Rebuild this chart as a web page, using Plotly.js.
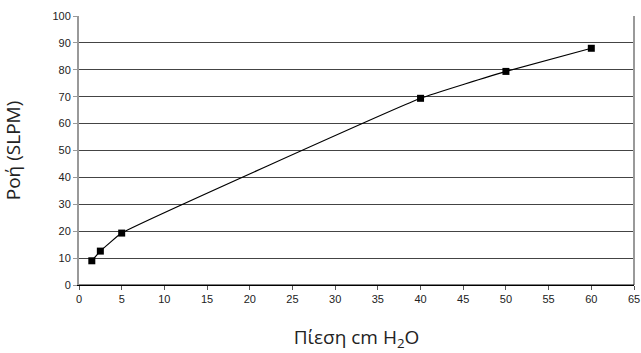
<!DOCTYPE html>
<html>
<head>
<meta charset="utf-8">
<script src="https://cdn.plot.ly/plotly-3.0.1.min.js"></script>
<style>html,body{margin:0;padding:0;background:#fff;}#chart{width:641px;height:353px;}</style>
</head>
<body>
<div id="chart"></div>
<script>
const pressure = [1.5, 2.5, 5, 40, 50, 60];
const flow = [9.0, 12.6, 19.3, 69.4, 79.4, 88.0];
const xTitle = 'Πίεση cm H<sub>2</sub>O';
const yTitle = 'Ροή (SLPM)';

const trace = {
  x: pressure, y: flow, type: 'scatter', mode: 'lines+markers',
  line: {color: '#000', width: 1.2, shape: 'spline', smoothing: 0.3},
  marker: {symbol: 'square', size: 7, color: '#000'},
  showlegend: false, hoverinfo: 'none'
};

const layout = {
  width: 641, height: 353,
  margin: {l: 79, r: 7, t: 16, b: 68},
  paper_bgcolor: '#fff', plot_bgcolor: '#fff',
  font: {family: 'Liberation Sans, Arial, sans-serif', size: 11, color: '#222'},
  xaxis: {
    range: [0, 65], dtick: 5, tick0: 0, showgrid: false, zeroline: false,
    showline: true, linecolor: '#000', linewidth: 1, mirror: false,
    ticks: 'outside', ticklen: 4, tickcolor: '#555',
    tickfont: {family: 'Liberation Sans, Arial, sans-serif', size: 11, color: '#222'},
    title: {text: xTitle, standoff: 26, font: {family: 'Open Sans, Noto Sans, sans-serif', size: 19, color: '#222'}}
  },
  yaxis: {
    range: [0, 100], dtick: 10, tick0: 0, showgrid: true, gridcolor: '#444', gridwidth: 1,
    zeroline: false, showline: true, linecolor: '#999', linewidth: 2,
    ticks: 'outside', ticklen: 4, tickcolor: '#999',
    tickfont: {family: 'Liberation Sans, Arial, sans-serif', size: 11, color: '#222'},
    title: {text: yTitle, standoff: 27, font: {family: 'Open Sans, Noto Sans, sans-serif', size: 19, color: '#222'}}
  },
  shapes: [
    {type: 'line', xref: 'paper', yref: 'paper', x0: 1, x1: 1, y0: 0, y1: 1, line: {color: '#999', width: 2}},
    {type: 'line', xref: 'paper', yref: 'paper', x0: 0, x1: 1, y0: 0, y1: 0, line: {color: '#000', width: 1}}
  ]
};

Plotly.newPlot('chart', [trace], layout, {displayModeBar: false, staticPlot: true});
</script>
</body>
</html>
